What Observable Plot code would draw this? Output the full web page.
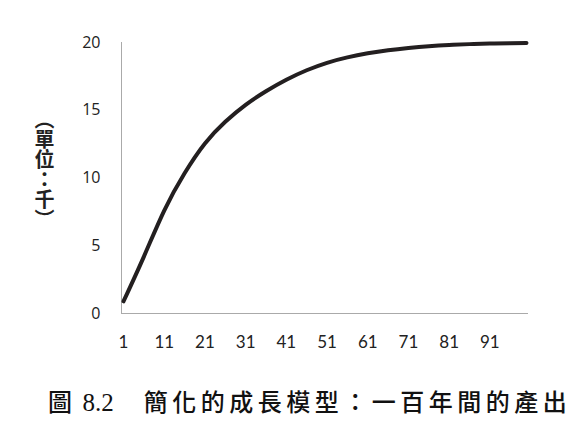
<!DOCTYPE html>
<html lang="zh-Hant">
<head>
<meta charset="utf-8">
<script src="https://cdn.jsdelivr.net/npm/d3@7"></script>
<script src="https://cdn.jsdelivr.net/npm/@observablehq/plot@0.6"></script>
<style>
  html, body { margin: 0; padding: 0; background: #fff; }
  #wrap { position: relative; width: 576px; height: 426px; overflow: hidden; }
  #ylabel {
    position: absolute; left: 34px; top: 109px;
    writing-mode: vertical-rl; font-family: "Noto Sans CJK TC", sans-serif;
    font-size: 20px; font-weight: 700; color: #222; line-height: 1;
  }
  #ylabel .up { text-orientation: upright; }
  #caption {
    position: absolute; left: 48px; top: 389px; white-space: nowrap;
    font-family: "Noto Sans CJK TC", sans-serif; font-size: 24px; font-weight: 500;
    color: #111; line-height: 1; letter-spacing: 4.5px;
  }
  #caption .num { font-family: "Liberation Serif", serif; font-weight: 400; letter-spacing: 0; font-size: 25px; margin: 0 30px 0 6px; }
</style>
</head>
<body>
<div id="wrap">
  <div id="chart"></div>
  <div id="ylabel">（單位<span class="up">：</span>千）</div>
  <div id="caption">圖<span class="num">8.2</span>簡化的成長模型：一百年間的產出</div>
</div>
<script>
// Years (category index) and output (thousands)
const years  = [1, 6, 11, 16, 21, 26, 31, 36, 41, 46, 51, 56, 61, 66, 71, 76, 81, 86, 91, 96, 100];
const output = [0.9, 4.2, 7.6, 10.35, 12.55, 14.15, 15.4, 16.4, 17.25, 17.95, 18.5, 18.9, 19.2, 19.43, 19.6, 19.73, 19.82, 19.88, 19.92, 19.95, 19.97];
const xTicks = [1, 11, 21, 31, 41, 51, 61, 71, 81, 91];
const yTicks = [0, 5, 10, 15, 20];

const data = years.map((t, i) => ({t, v: output[i]}));

const chart = Plot.plot({
  width: 576,
  height: 360,
  marginLeft: 121,
  marginRight: 48,
  marginTop: 42,
  marginBottom: 47,
  style: {fontFamily: "'Open Sans', sans-serif", fontSize: "16px", color: "#222", background: "#fff"},
  x: {domain: [0.5, 100.5], ticks: xTicks, tickSize: 0, tickPadding: 22, label: null, tickFormat: d => String(d)},
  y: {domain: [0, 20], ticks: yTicks, tickSize: 0, tickPadding: 21, label: null},
  marks: [
    Plot.ruleX([0.5], {stroke: "#aaa", strokeWidth: 1}),
    Plot.ruleY([0], {stroke: "#aaa", strokeWidth: 1}),
    Plot.axisX({ticks: xTicks, tickSize: 0, tickPadding: 22, label: null, fontFamily: "Lato, sans-serif", fontSize: 17}),
    Plot.line(data, {x: "t", y: "v", curve: "natural", stroke: "#231f20", strokeWidth: 4, strokeLinecap: "round"})
  ]
});
document.getElementById("chart").appendChild(chart);
</script>
</body>
</html>
